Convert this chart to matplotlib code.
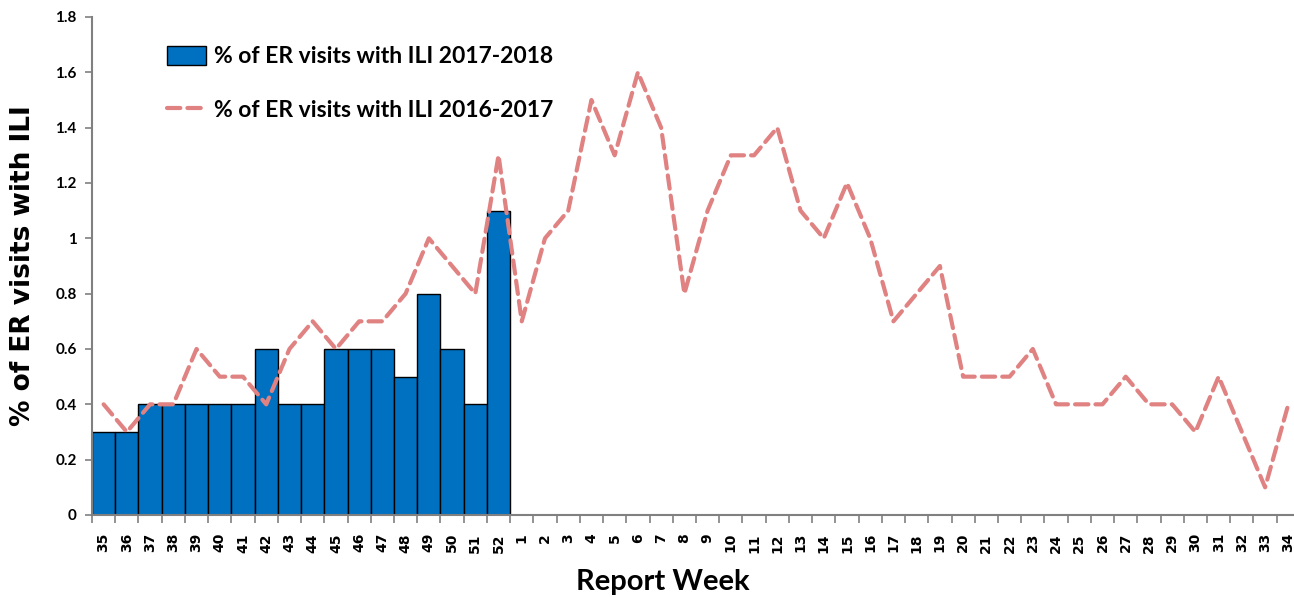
import matplotlib
matplotlib.use('Agg')
import matplotlib.pyplot as plt
import numpy as np

weeks = [str(w) for w in range(35, 53)] + [str(w) for w in range(1, 35)]

# 2017-2018 season (bars), weeks 35-52 only
ili_2017_2018 = [0.3, 0.3, 0.4, 0.4, 0.4, 0.4, 0.4, 0.6, 0.4, 0.4,
                 0.6, 0.6, 0.6, 0.5, 0.8, 0.6, 0.4, 1.1]

# 2016-2017 season (dashed line), all 52 weeks
ili_2016_2017 = [0.4, 0.3, 0.4, 0.4, 0.6, 0.5, 0.5, 0.4, 0.6, 0.7,
                 0.6, 0.7, 0.7, 0.8, 1.0, 0.9, 0.8, 1.3,
                 0.7, 1.0, 1.1, 1.5, 1.3, 1.6, 1.4, 0.8, 1.1, 1.3,
                 1.3, 1.4, 1.1, 1.0, 1.2, 1.0, 0.7, 0.8, 0.9, 0.5,
                 0.5, 0.5, 0.6, 0.4, 0.4, 0.4, 0.5, 0.4, 0.4, 0.3,
                 0.5, 0.3, 0.1, 0.4]

NARROW = ['Lato', 'DejaVu Sans']

fig = plt.figure(figsize=(12.94, 5.98), dpi=100)
ax = fig.add_axes([0.0711, 0.1388, 0.9335, 0.8328])

x = np.arange(len(weeks))
bars = ax.bar(x[:len(ili_2017_2018)], ili_2017_2018, width=1.0, color='#0070C0',
              edgecolor='black', linewidth=1.0,
              label='% of ER visits with ILI 2017-2018', zorder=2)
line, = ax.plot(x, ili_2016_2017, color='#E08282', linewidth=3.0,
                dashes=(3.2, 1.7), dash_capstyle='round',
                label='% of ER visits with ILI 2016-2017', zorder=3)

ax.set_xlim(-0.5, len(weeks) - 0.5)
ax.set_ylim(0, 1.8)
ax.set_yticks(np.arange(0, 1.81, 0.2))
ax.set_yticklabels(['%g' % round(v, 1) for v in np.arange(0, 1.81, 0.2)],
                   family=NARROW, fontweight='bold', fontsize=11)

ax.set_xticks(x)
ax.set_xticklabels(weeks, rotation=90, fontweight='bold', fontsize=10,
                   family='DejaVu Sans')
ax.set_xticks(np.arange(-0.5, len(weeks), 1.0), minor=True)
ax.tick_params(axis='x', which='major', length=0, pad=13)
ax.tick_params(axis='x', which='minor', length=6, width=1.2, color='#808080')
ax.tick_params(axis='y', length=5, width=1.2, color='#808080', pad=6)

for s in ['top', 'right']:
    ax.spines[s].set_visible(False)
for s in ['left', 'bottom']:
    ax.spines[s].set_color('#808080')
    ax.spines[s].set_linewidth(1.5)

ax.set_ylabel('% of ER visits with ILI', fontsize=19, fontweight='bold',
              family='DejaVu Sans', labelpad=14)
fig.text(0.512, 0.005, 'Report Week', ha='center', va='bottom',
         fontsize=21, fontweight='bold', family=NARROW)

ax.legend([bars, line], [bars.get_label(), line.get_label()],
          loc='upper left', bbox_to_anchor=(0.045, 0.983), frameon=False,
          prop={'family': NARROW, 'weight': 'bold', 'size': 16.5},
          handlelength=1.7, handleheight=0.9, labelspacing=1.4,
          handletextpad=0.35)

fig.savefig('out.png', dpi=100)
